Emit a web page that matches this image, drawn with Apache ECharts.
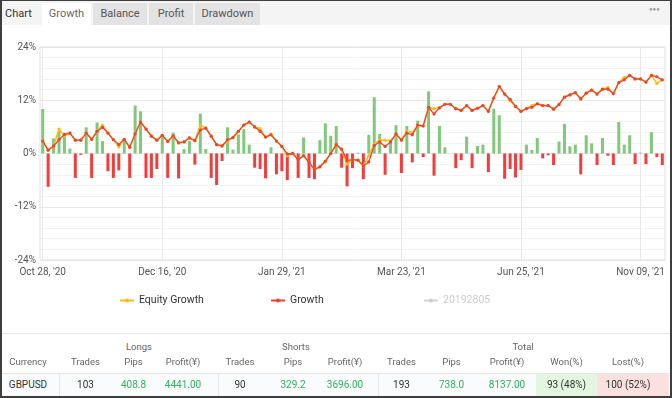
<!DOCTYPE html>
<html><head><meta charset="utf-8">
<script src="https://cdn.jsdelivr.net/npm/echarts/dist/echarts.min.js"></script>
<style>
html,body{margin:0;padding:0;background:#fff;}
body{width:672px;height:398px;position:relative;overflow:hidden;font-family:Roboto,"Liberation Sans",sans-serif;}
#chart{position:absolute;left:0;top:0;width:672px;height:335px;}
#tabbar{position:absolute;left:0;top:0;width:672px;height:25px;background:#f4f4f4;z-index:5;}
.tab{position:absolute;top:3px;height:22px;line-height:22px;text-align:center;font-size:11px;color:#555;background:#e3e3e3;}
.tab.active{background:#fff;color:#666;}
#chartlbl{position:absolute;left:5px;top:3px;height:22px;line-height:22px;font-size:11px;color:#333;}
#dots{position:absolute;left:649px;top:5px;font-size:6px;line-height:8px;color:#999;letter-spacing:0px;}
#sep{position:absolute;left:0;top:333px;width:672px;height:1px;background:#e6e6e6;}
.c{position:absolute;width:90px;margin-left:-45px;text-align:center;font-size:9.5px;line-height:12px;}
.h{color:#666;}
.d{color:#333;font-size:10px;}
.g{color:#2fb45a;}
#row{position:absolute;left:0;top:373px;width:672px;height:24px;background:#fafbfc;border-top:1px solid #e6e6e6;}
.vd{position:absolute;top:373px;width:1px;height:24px;background:#e6e6e6;}
#won{position:absolute;left:536px;top:374px;width:61px;height:23px;background:#e2f6e0;}
#lost{position:absolute;left:597px;top:374px;width:72px;height:23px;background:#fbe0e0;}
#frame{position:absolute;left:0;top:0;width:672px;height:398px;box-sizing:border-box;border:2px solid #3e3e3e;border-top-width:1px;z-index:20;pointer-events:none;}
</style></head>
<body>
<div id="chart"></div>
<div id="tabbar">
  <div id="chartlbl">Chart</div>
  <div class="tab active" style="left:42px;width:49px;">Growth</div>
  <div class="tab" style="left:93px;width:54px;">Balance</div>
  <div class="tab" style="left:149px;width:44px;">Profit</div>
  <div class="tab" style="left:195px;width:65px;">Drawdown</div>
  <div id="dots">&#9679;&#9679;&#9679;</div>
</div>
<div id="sep"></div>
<div id="row"></div>
<div id="won"></div><div id="lost"></div>
<div class="vd" style="left:59px"></div>
<div class="vd" style="left:218px"></div>
<div class="vd" style="left:378px"></div>
<div id="tbl"></div>
<div id="frame"></div>
<script>
// ---- chart data ----
const tickLabels = ["Oct 28, '20", "Dec 16, '20", "Jan 29, '21", "Mar 23, '21", "Jun 25, '21", "Nov 09, '21"];
const tickEvery = 22;
const yTicks = [-24, -12, 0, 12, 24];

const dailyBars = [
 10.0,-7.5,3.4,5.0,4.1,1.1,-5.5,-0.3,5.9,-5.5,
 7.0,2.8,-4.0,-5.5,-3.8,3.3,-5.5,10.8,9.5,-5.5,
 -5.5,-3.5,3.7,-5.5,4.7,-5.6,1.0,2.8,-2.5,9.0,
 1.0,-5.5,-7.1,-1.7,5.9,0.9,4.3,5.5,2.0,-3.2,
 -3.5,-5.6,1.4,-4.7,-4.0,-6.0,0.4,-5.5,3.6,-5.5,
 -5.8,3.0,6.8,4.0,6.2,-3.2,-7.4,-3.3,0.2,-5.8,
 4.2,12.7,4.4,-4.8,2.5,6.4,-4.4,6.2,-2.0,7.4,
 -0.8,14.0,-5.0,6.2,1.4,0.0,-3.3,-1.5,3.8,-3.3,
 1.7,2.0,-4.2,10.1,8.6,-5.7,-3.5,-5.4,-3.7,2.0,
 0.8,3.5,-1.1,-0.4,-2.6,2.7,6.7,1.6,2.0,-4.7,
 4.1,2.3,-2.6,3.5,-0.5,-2.6,7.1,2.0,4.1,-2.4,
 0.2,-2.4,4.8,-0.8,-2.6
];

const growth = [
 2.8,0.75,1.7,3.1,4.3,4.6,3.0,3.0,4.6,3.2,
 5.0,5.9,4.6,3.1,2.0,3.2,1.4,4.4,7.1,5.5,
 3.9,3.0,4.1,2.7,4.0,2.4,2.6,3.5,2.9,5.3,
 5.7,3.9,2.0,1.7,3.1,3.6,5.0,6.4,7.1,6.0,
 5.0,3.7,4.2,2.8,1.6,-0.1,0.0,-1.4,-0.5,-2.0,
 -3.6,-3.0,-1.7,0.0,2.0,1.0,-1.6,-1.4,-1.5,-2.8,
 -1.9,1.8,2.6,1.6,2.6,4.4,3.0,4.6,4.2,6.4,
 6.2,10.4,8.9,10.3,11.1,11.1,10.1,9.7,10.8,9.7,
 10.2,10.8,9.5,12.5,15.1,13.4,12.2,10.6,9.5,10.1,
 10.4,11.2,10.8,10.8,10.0,11.0,12.7,13.2,13.7,12.3,
 13.6,14.3,13.4,14.5,14.5,13.5,16.0,16.6,17.6,16.8,
 16.8,16.1,17.6,17.3,16.6
];

const equityGrowth = [
 2.8,0.75,1.7,5.5,3.9,4.6,3.0,3.0,4.6,3.2,
 5.0,6.4,4.6,3.1,1.5,3.2,1.4,4.4,7.1,5.5,
 3.9,3.0,4.1,2.7,4.0,2.4,2.6,3.5,2.9,6.4,
 5.7,3.9,2.0,1.7,2.8,3.6,5.0,6.4,7.1,6.0,
 5.6,3.7,4.4,2.8,1.6,-0.5,0.0,-1.4,-0.5,-2.0,
 -3.6,-3.0,-1.9,0.0,2.0,0.8,-2.4,-1.4,-1.5,-2.8,
 -0.5,2.1,3.1,3.0,2.9,4.2,3.2,5.0,4.7,6.4,
 6.2,10.4,10.1,10.3,11.1,11.1,10.1,9.7,10.8,9.7,
 10.2,10.8,9.5,12.5,15.1,13.4,11.9,10.6,9.5,10.1,
 10.8,11.2,10.8,10.8,10.0,11.1,12.7,13.2,13.7,12.3,
 13.6,14.3,13.4,14.5,14.9,13.5,16.0,17.1,17.6,16.8,
 16.8,16.1,17.6,15.8,16.6
];

const hiddenSeries = []; // "20192805" series is switched off in the legend

const categories = growth.map((_, i) => i);

// ---- table data ----
const groupHeaders = [["Longs",139],["Shorts",296],["Total",523]];
const colHeaders = ["Currency","Trades","Pips","Profit(¥)","Trades","Pips","Profit(¥)","Trades","Pips","Profit(¥)","Won(%)","Lost(%)"];
const rowValues = ["GBPUSD","103","408.8","4441.00","90","329.2","3696.00","193","738.0","8137.00","93 (48%)","100 (52%)"];
const greenCols = [2,3,5,6,8,9];
const colCenters = [28,85.5,133.5,183,240,293,345,401.5,451.5,507,566.5,628];

const tbl = document.getElementById('tbl');
let html = '';
groupHeaders.forEach(([t,x]) => { html += `<div class="c h" style="left:${x}px;top:341px">${t}</div>`; });
colHeaders.forEach((t,i) => { html += `<div class="c h" style="left:${colCenters[i]}px;top:356px">${t}</div>`; });
rowValues.forEach((t,i) => { html += `<div class="c d${greenCols.includes(i)?' g':''}" style="left:${colCenters[i]}px;top:379px">${t}</div>`; });
tbl.innerHTML = html;

// ---- chart ----
const chart = echarts.init(document.getElementById('chart'), null, {renderer:'canvas'});
const txt = {fontFamily:'Roboto, "Liberation Sans", sans-serif'};
const legendBase = {itemWidth:14, itemHeight:5, itemGap:5, top:290, inactiveColor:'#ccc',
  textStyle:{fontSize:10.5, color:'#333', ...txt}};
chart.setOption({
  animation:false,
  textStyle: txt,
  grid:{left:40, width:625, top:47, height:213, show:true, borderColor:'#e0e0e0', borderWidth:1, containLabel:false},
  legend:[
    {...legendBase, data:['Equity Growth'], left:114},
    {...legendBase, data:['Growth'], left:265},
    {...legendBase, data:['20192805'], left:418, selected:{'20192805':false}}
  ],
  xAxis:{
    type:'category', data:categories, boundaryGap:true,
    axisLine:{show:false}, axisTick:{show:false},
    axisLabel:{interval:tickEvery-1, margin:7, fontSize:10, color:'#555',
      formatter:(v, idx) => (idx % tickEvery === 0 && tickLabels[idx/tickEvery]) ? tickLabels[idx/tickEvery] : ''},
    splitLine:{show:true, interval:tickEvery-1, alignWithLabel:true, lineStyle:{color:'#e8e8e8'}}
  },
  yAxis:{
    type:'value', min:yTicks[0], max:yTicks[yTicks.length-1], interval:12,
    axisLine:{show:false}, axisTick:{show:false},
    axisLabel:{formatter:'{value}%', margin:4, fontSize:10, color:'#555'},
    splitLine:{show:true, lineStyle:{color:'#e6e6e6'}},
    minorTick:{show:false, splitNumber:5},
    minorSplitLine:{show:true, lineStyle:{color:'#f3f3f3'}}
  },
  series:[
    {name:'Daily', type:'bar', data:dailyBars, barWidth:3, z:1,
     itemStyle:{color:(p) => p.value >= 0 ? '#80c97b' : '#f33c3c'}},
    {name:'20192805', type:'line', data:hiddenSeries, color:'#aaa', symbol:'circle', symbolSize:3},
    {name:'Equity Growth', type:'line', data:equityGrowth, color:'#fbbb16', z:3,
     symbol:'circle', symbolSize:3.2, lineStyle:{width:1.5}},
    {name:'Growth', type:'line', data:growth, color:'#f0422f', z:4,
     symbol:'circle', symbolSize:3.2, lineStyle:{width:1.3}}
  ]
});
</script>
</body></html>
